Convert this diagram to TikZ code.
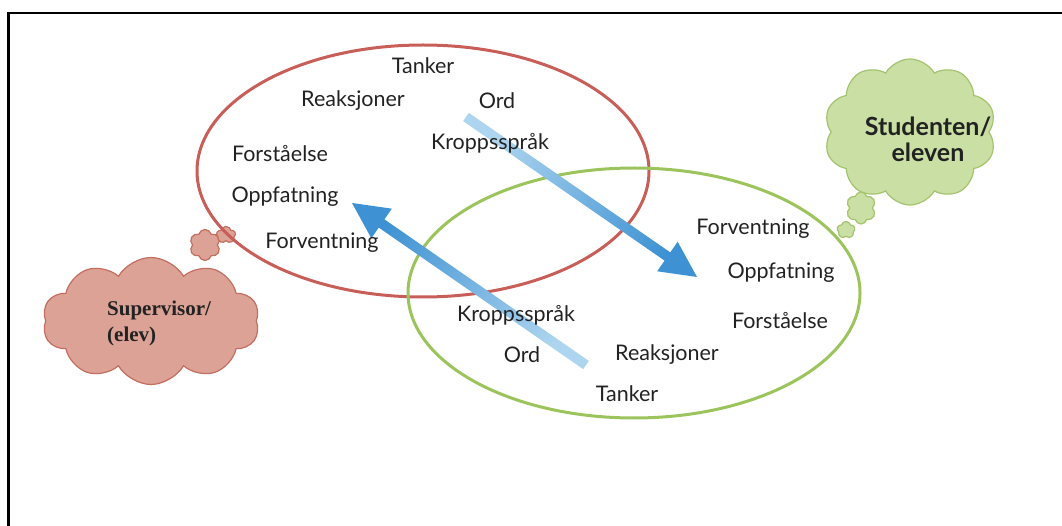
\documentclass[tikz,border=0pt]{standalone}
\usepackage{fontspec}
\setmainfont{Lato}
\newfontfamily\timesbold{Liberation Serif}
\usetikzlibrary{shapes.symbols,shapes.geometric,calc}

\definecolor{redline}{HTML}{C85E58}
\definecolor{greenline}{HTML}{9CC45C}
\definecolor{redfill}{HTML}{DBA295}
\definecolor{rededge}{HTML}{C46E60}
\definecolor{greenfill}{HTML}{C9DFA3}
\definecolor{greenedge}{HTML}{A3C46E}
\definecolor{arrowlight}{HTML}{AED5EF}
\definecolor{arrowdark}{HTML}{3E92D3}
\definecolor{ink}{HTML}{222222}

\begin{document}
\begin{tikzpicture}[x=1pt,y=-1pt,
  word/.style={text=ink,font=\fontsize{21.5}{24}\selectfont,inner sep=0pt},
  ring/.style={draw,ellipse,line width=3pt,inner sep=0pt},
  puff/.style={cloud,cloud ignores aspect,draw,line width=1.2pt,inner sep=0pt},
  redpuff/.style={puff,draw=rededge,fill=redfill},
  greenpuff/.style={puff,draw=greenedge,fill=greenfill}]

\useasboundingbox (0,0) rectangle (1062,526);

% frame lines
\draw[line width=2.2pt] (8.5,526) -- (8.5,13) -- (1062,13);

% thought clouds
\node[redpuff,cloud puffs=10,cloud puff arc=120,minimum width=217pt,minimum height=127pt] (sup) at (151,321) {};
\node[redpuff,cloud puffs=6,minimum width=31pt,minimum height=31pt] (supb1) at (205,245) {};
\node[redpuff,cloud puffs=5,minimum width=19pt,minimum height=17pt] (supb2) at (226,235) {};
\node[font=\timesbold\bfseries\fontsize{21}{26}\selectfont,text=ink,align=left,anchor=west,inner sep=0pt] (suptxt) at (107,323) {Supervisor/\\(elev)};

\node[greenpuff,cloud puffs=10,cloud puff arc=120,minimum width=172pt,minimum height=146pt] (stu) at (910,132) {};
\node[greenpuff,cloud puffs=6,minimum width=30pt,minimum height=32pt] (stub1) at (861,208) {};
\node[greenpuff,cloud puffs=5,minimum width=18pt,minimum height=17pt] (stub2) at (846,230) {};
\node[font=\bfseries\fontsize{25}{26}\selectfont,text=ink,align=center,inner sep=0pt] (stutxt) at (928,139) {Studenten/\\eleven};

% the two overlapping ellipses
\node[ring,draw=redline,minimum width=452pt,minimum height=252pt] (redring) at (423,171) {};
\node[ring,draw=greenline,minimum width=452pt,minimum height=250pt] (greenring) at (634,293) {};

% shaded arrows, behind the words
\coordinate (s1) at (466,117);
\coordinate (e1) at (697,277);
\coordinate (b1) at ($(e1)!36pt!(s1)$);
\shade[top color=arrowdark,bottom color=arrowlight,shading angle=235]
  ($(s1)!5pt!90:(e1)$) -- ($(b1)!5pt!90:(e1)$) -- ($(b1)!18pt!90:(e1)$) -- (e1)
  -- ($(b1)!18pt!-90:(e1)$) -- ($(b1)!5pt!-90:(e1)$) -- ($(s1)!5pt!-90:(e1)$) -- cycle;

\coordinate (s2) at (586,365);
\coordinate (e2) at (352,203);
\coordinate (b2) at ($(e2)!36pt!(s2)$);
\shade[top color=arrowdark,bottom color=arrowlight,shading angle=55]
  ($(s2)!5pt!90:(e2)$) -- ($(b2)!5pt!90:(e2)$) -- ($(b2)!18pt!90:(e2)$) -- (e2)
  -- ($(b2)!18pt!-90:(e2)$) -- ($(b2)!5pt!-90:(e2)$) -- ($(s2)!5pt!-90:(e2)$) -- cycle;

% words in the red ellipse
\node[word] (r1) at (423,66) {Tanker};
\node[word] (r2) at (353,101) {Reaksjoner};
\node[word] (r3) at (497,101) {Ord};
\node[word] (r4) at (490,143) {Kroppsspråk};
\node[word] (r5) at (280,154) {Forståelse};
\node[word] (r6) at (285,197) {Oppfatning};
\node[word] (r7) at (322,243) {Forventning};

% words in the green ellipse
\node[word] (g1) at (753,229) {Forventning};
\node[word] (g2) at (781,273) {Oppfatning};
\node[word] (g3) at (780,321) {Forståelse};
\node[word] (g4) at (516,315) {Kroppsspråk};
\node[word] (g5) at (522,355) {Ord};
\node[word] (g6) at (667,355) {Reaksjoner};
\node[word] (g7) at (627,394) {Tanker};

\end{tikzpicture}
\end{document}
